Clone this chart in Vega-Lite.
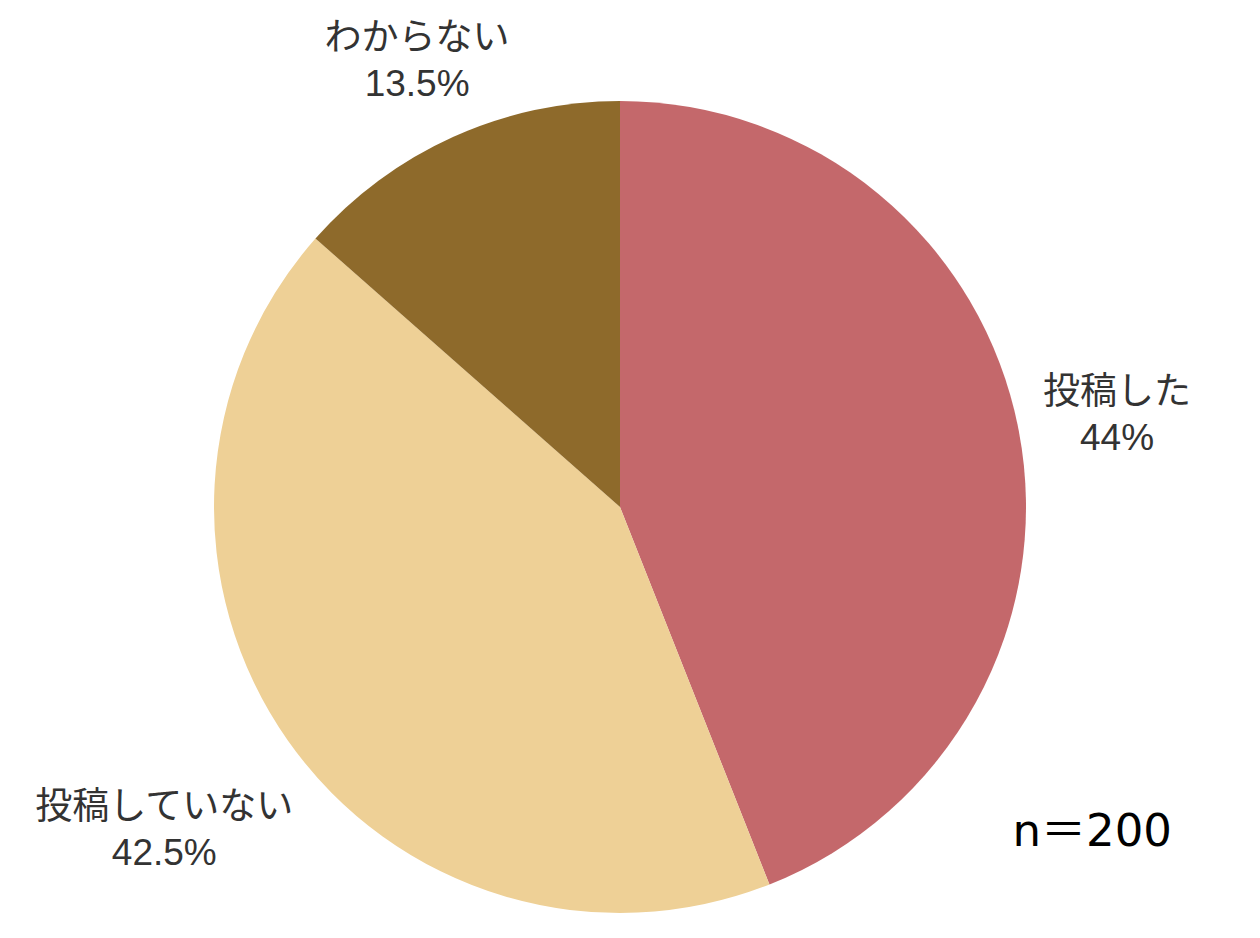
{
  "$schema": "https://vega.github.io/schema/vega-lite/v6.json",
  "autosize": {"type": "none"},
  "width": 1240,
  "height": 812,
  "padding": {"top": 101, "left": 0, "right": 20, "bottom": 25},
  "background": "white",
  "config": {
    "view": {"stroke": null},
    "text": {
      "lineBreak": "\n",
      "lineHeight": 46,
      "font": "Liberation Sans, Noto Sans CJK JP",
      "fontSize": 37,
      "color": "#333333",
      "align": "center",
      "baseline": "middle",
      "dy": -19
    }
  },
  "title": {
    "text": "n＝200",
    "orient": "bottom",
    "anchor": "end",
    "frame": "group",
    "baseline": "middle",
    "offset": -81,
    "dx": -68,
    "font": "DejaVu Sans, Noto Sans CJK JP",
    "fontSize": 45,
    "fontWeight": "normal",
    "color": "#000000"
  },
  "data": {
    "values": [
      {"idx": 1, "回答": "投稿した", "割合": 44, "ラベル": "投稿した\n44%"},
      {"idx": 2, "回答": "投稿していない", "割合": 42.5, "ラベル": "投稿していない\n42.5%"},
      {"idx": 3, "回答": "わからない", "割合": 13.5, "ラベル": "わからない\n13.5%"}
    ]
  },
  "encoding": {
    "theta": {"field": "割合", "type": "quantitative", "stack": true},
    "order": {"field": "idx", "type": "quantitative"}
  },
  "layer": [
    {
      "mark": {"type": "arc", "outerRadius": 406, "stroke": null},
      "encoding": {
        "color": {
          "field": "回答",
          "type": "nominal",
          "scale": {
            "domain": ["投稿した", "投稿していない", "わからない"],
            "range": ["#C4686B", "#EED096", "#8E6A2B"]
          },
          "legend": null
        }
      }
    },
    {
      "mark": {"type": "text", "radius": 506},
      "encoding": {
        "text": {"condition": {"test": "datum['回答'] === '投稿した'", "field": "ラベル", "type": "nominal"}, "value": ""}
      }
    },
    {
      "mark": {"type": "text", "radius": 557},
      "encoding": {
        "text": {"condition": {"test": "datum['回答'] === '投稿していない'", "field": "ラベル", "type": "nominal"}, "value": ""}
      }
    },
    {
      "mark": {"type": "text", "radius": 493},
      "encoding": {
        "text": {"condition": {"test": "datum['回答'] === 'わからない'", "field": "ラベル", "type": "nominal"}, "value": ""}
      }
    }
  ]
}
